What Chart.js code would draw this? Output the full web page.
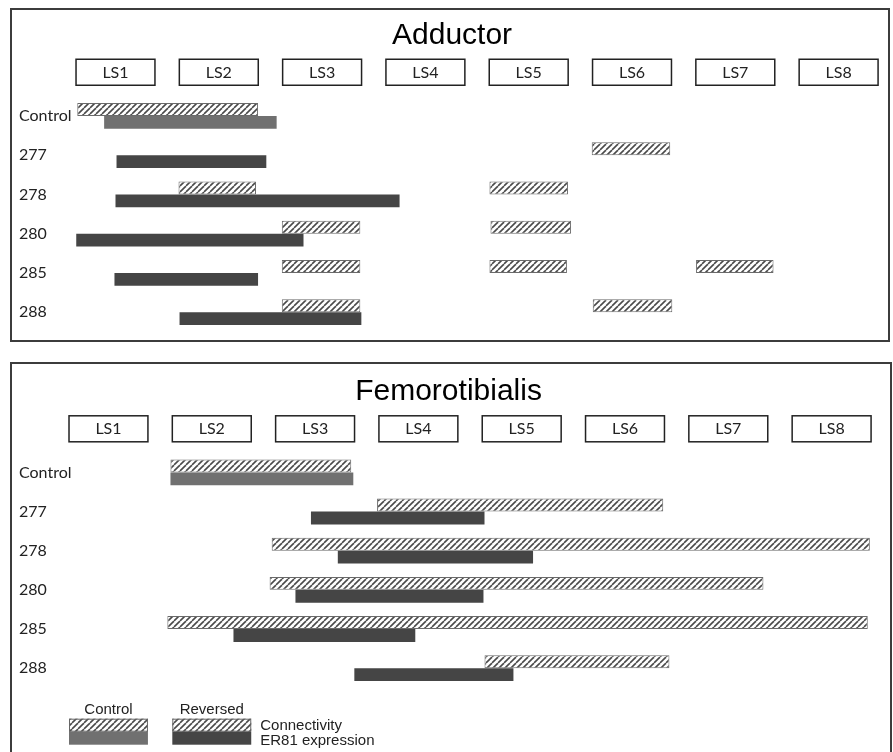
<!DOCTYPE html>
<html>

<head>
    <meta charset="utf-8">
    <title>Adductor / Femorotibialis</title>
    <script src="https://cdn.jsdelivr.net/npm/chart.js"></script>
</head>

<style>
    body {
        margin: 0;
        background-color: #ffffff;
        width: 893px;
        height: 752px;
        overflow: hidden;
        position: relative;
    }

    .panel {
        position: absolute;
        border: 2px solid #3c3c3c;
        box-sizing: border-box;
    }

    canvas {
        position: absolute;
        left: 0;
    }
</style>

<body>
    <div class="panel" style="left:10px; top:8px; width:880px; height:334px;"></div>
    <div class="panel" style="left:10px; top:362px; width:882px; height:420px;"></div>
    <canvas id="adductor" width="893" height="345" style="top:0px;"></canvas>
    <canvas id="femoro" width="893" height="407" style="top:345px;"></canvas>

    <script>
        // rows and lumbar segments
        const rows = ['Control', '277', '278', '280', '285', '288'];
        const segments = ['LS1', 'LS2', 'LS3', 'LS4', 'LS5', 'LS6', 'LS7', 'LS8'];

        // spans in segment units (LSk box centred on k)
        const adductorConnectivity = [
            [[0.63, 2.38]],
            [[5.61, 6.37]],
            [[1.61, 2.36], [4.62, 5.38]],
            [[2.61, 3.37], [4.63, 5.41]],
            [[2.61, 3.37], [4.62, 5.37], [6.62, 7.37]],
            [[2.61, 3.37], [5.62, 6.39]]
        ];
        const adductorER81 = [[0.89, 2.56], [1.01, 2.46], [1.0, 3.75], [0.62, 2.82], [0.99, 2.38], [1.62, 3.38]];

        const femoroConnectivity = [
            [[1.60, 3.35]],
            [[3.60, 6.37]],
            [[2.58, 8.37]],
            [[2.56, 7.34]],
            [[1.57, 8.35]],
            [[4.64, 6.43]]
        ];
        const femoroER81 = [[1.60, 3.37], [2.96, 4.64], [3.22, 5.11], [2.81, 4.63], [2.21, 3.97], [3.38, 4.92]];

        const controlGray = '#707070';
        const reversedDark = '#454545';
        const boxHalf = 0.382;

        // diagonal hatch
        function makeHatch() {
            const n = 6;
            const c = document.createElement('canvas');
            c.width = n;
            c.height = n;
            const g = c.getContext('2d');
            g.fillStyle = '#ffffff';
            g.fillRect(0, 0, n, n);
            g.strokeStyle = '#4a4a4a';
            g.lineWidth = 1.6;
            for (let k = -n; k <= n; k += n) {
                g.beginPath();
                g.moveTo(k, n);
                g.lineTo(k + n, 0);
                g.stroke();
            }
            return g.createPattern(c, 'repeat');
        }
        const hatch = makeHatch();

        const labelFont = { family: 'Lato, "Open Sans", sans-serif', size: 16 };

        // boxes round LS tick labels
        const segmentBoxes = {
            id: 'segmentBoxes',
            afterDraw(chart) {
                const x = chart.scales.x;
                const ctx = chart.ctx;
                ctx.save();
                ctx.strokeStyle = '#222';
                ctx.lineWidth = 1.5;
                const yb = x.bottom - 11;
                for (let k = 1; k <= segments.length; k++) {
                    const l = x.getPixelForValue(k - boxHalf);
                    const r = x.getPixelForValue(k + boxHalf);
                    ctx.strokeRect(l, yb - 26, r - l, 26);
                }
                ctx.restore();
            }
        };

        // legend drawn under the femorotibialis rows
        const legendBox = {
            id: 'legendBox',
            afterDraw(chart) {
                if (!chart.options.plugins.legendBox.show) return;
                const x = chart.scales.x;
                const ctx = chart.ctx;
                const top = chart.chartArea.bottom + 30;
                ctx.save();
                ctx.font = '15px "Liberation Sans", Arial, sans-serif';
                ctx.textAlign = 'center';
                ctx.textBaseline = 'middle';
                [[1, 'Control', controlGray], [2, 'Reversed', reversedDark]].forEach(function (s) {
                    const l = x.getPixelForValue(s[0] - boxHalf);
                    const r = x.getPixelForValue(s[0] + boxHalf);
                    ctx.fillStyle = '#222';
                    ctx.fillText(s[1], (l + r) / 2, top - 8);
                    ctx.fillStyle = hatch;
                    ctx.fillRect(l, top + 1, r - l, 13);
                    ctx.strokeStyle = '#666';
                    ctx.lineWidth = 1;
                    ctx.strokeRect(l + 0.5, top + 1.5, r - l - 1, 12);
                    ctx.fillStyle = s[2];
                    ctx.fillRect(l, top + 14, r - l, 13);
                });
                const tx = x.getPixelForValue(2 + boxHalf) + 9;
                ctx.fillStyle = '#222';
                ctx.textAlign = 'left';
                ctx.fillText('Connectivity', tx, top + 8);
                ctx.fillText('ER81 expression', tx, top + 23);
                ctx.restore();
            }
        };

        function makeChart(id, title, connectivity, er81, cfg) {
            const hatchData = [];
            connectivity.forEach(function (spans, i) {
                spans.forEach(function (s) {
                    hatchData.push({ y: rows[i], x: s });
                });
            });

            return new Chart(document.getElementById(id), {
                type: 'bar',
                data: {
                    labels: rows,
                    datasets: [{
                        label: 'Connectivity',
                        data: hatchData,
                        backgroundColor: hatch,
                        borderColor: '#6a6a6a',
                        borderWidth: 1,
                        borderSkipped: false
                    }, {
                        label: 'ER81 expression',
                        data: er81,
                        backgroundColor: function (c) {
                            return c.dataIndex === 0 ? controlGray : reversedDark;
                        },
                        borderWidth: 0
                    }]
                },
                options: {
                    indexAxis: 'y',
                    responsive: false,
                    animation: false,
                    categoryPercentage: 0.66,
                    barPercentage: 1,
                    layout: {
                        padding: { left: 19, right: cfg.padRight, top: 0, bottom: cfg.padBottom }
                    },
                    plugins: {
                        legend: { display: false },
                        tooltip: { enabled: false },
                        legendBox: { show: cfg.legend },
                        title: {
                            display: true,
                            text: title,
                            color: '#000',
                            font: { family: '"Liberation Sans", Arial, sans-serif', size: 30, weight: 'normal' },
                            padding: { top: cfg.titleTop, bottom: 0 }
                        }
                    },
                    scales: {
                        x: {
                            type: 'linear',
                            position: 'top',
                            min: cfg.xMin,
                            max: 8.45,
                            afterBuildTicks: function (axis) {
                                axis.ticks = segments.map(function (s, i) { return { value: i + 1 }; });
                            },
                            afterFit: function (axis) { axis.height = cfg.axisH; },
                            grid: { display: false, drawTicks: false },
                            border: { display: false },
                            ticks: {
                                autoSkip: false,
                                maxRotation: 0,
                                padding: 14,
                                color: '#222',
                                font: labelFont,
                                callback: function (v) { return segments[v - 1]; }
                            }
                        },
                        y: {
                            type: 'category',
                            afterFit: function (axis) { axis.width = 56; },
                            grid: { display: false, drawTicks: false },
                            border: { display: false },
                            ticks: {
                                crossAlign: 'far',
                                color: '#222',
                                font: labelFont
                            }
                        }
                    }
                },
                plugins: [segmentBoxes, legendBox]
            });
        }

        makeChart('adductor', 'Adductor', adductorConnectivity, adductorER81,
            { xMin: 0.608, padRight: 7.9, padBottom: 13.25, titleTop: 17.5, axisH: 42.75, legend: false });
        makeChart('femoro', 'Femorotibialis', femoroConnectivity, femoroER81,
            { xMin: 0.676, padRight: 14.9, padBottom: 64.3, titleTop: 29, axisH: 42.8, legend: true });
    </script>

</body>

</html>
